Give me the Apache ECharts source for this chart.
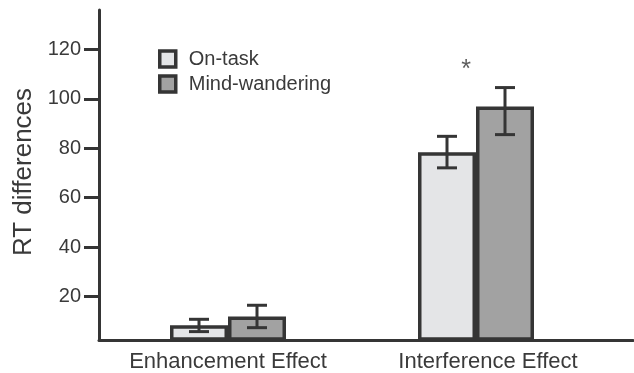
<!DOCTYPE html>
<html>
<head>
<meta charset="utf-8">
<script src="https://cdn.jsdelivr.net/npm/echarts@6/dist/echarts.min.js"></script>
<style>html,body{margin:0;padding:0;background:#fff}#c{width:634px;height:373px}</style>
</head>
<body>
<div id="c"></div>
<script>
const categories = ['Enhancement Effect', 'Interference Effect'];
const onTask = [8, 78.2];
const mindWandering = [11.5, 96.8];
const onTaskLow = [5.4, 71.9];
const onTaskHigh = [10.4, 84.7];
const mwLow = [7.0, 85.4];
const mwHigh = [16.1, 104.5];
const yTicks = [20, 40, 60, 80, 100, 120];
const starCategory = 1;
const starValue = 114;

const Y_MIN = 2.4, Y_MAX = 136;
const BAR_W = 58;
const DARK = '#353535';
const TXT = '#3a3a3a';
const FONT = 'Liberation Sans, Arial, sans-serif';

function errSeries(name, low, high, offset) {
  return {
    name: name,
    type: 'custom',
    xAxisIndex: 1, yAxisIndex: 1,
    z: 5,
    data: low.map((l, i) => [i, l, high[i]]),
    renderItem: function (params, api) {
      const lo = api.coord([api.value(0), api.value(1)]);
      const hi = api.coord([api.value(0), api.value(2)]);
      const x = lo[0] + offset;
      const cap = 10;
      const st = { stroke: DARK, lineWidth: 3 };
      return {
        type: 'group',
        children: [
          { type: 'line', shape: { x1: x, y1: lo[1], x2: x, y2: hi[1] }, style: st },
          { type: 'line', shape: { x1: x - cap, y1: lo[1], x2: x + cap, y2: lo[1] }, style: st },
          { type: 'line', shape: { x1: x - cap, y1: hi[1], x2: x + cap, y2: hi[1] }, style: st }
        ]
      };
    }
  };
}

const chart = echarts.init(document.getElementById('c'));
chart.setOption({
  animation: false,
  textStyle: { fontFamily: FONT },
  legend: {
    data: ['On-task', 'Mind-wandering'],
    orient: 'vertical',
    left: 158, top: 49,
    itemWidth: 16, itemHeight: 16, itemGap: 5,
    padding: 0,
    icon: 'rect',
    itemStyle: { borderColor: DARK, borderWidth: 3.5 },
    textStyle: { fontSize: 20, color: TXT, fontFamily: FONT, padding: [0, 0, 0, 8] }
  },
  grid: [
    { left: 99, right: 1, top: 10, bottom: 33 },
    { left: 104, right: 34, top: 10, bottom: 33 }
  ],
  xAxis: [
    {
      type: 'value', gridIndex: 0, min: 0, max: 1,
      axisLine: { show: true, lineStyle: { color: DARK, width: 3 } },
      axisTick: { show: false }, axisLabel: { show: false }, splitLine: { show: false }
    },
    {
      type: 'category', gridIndex: 1,
      data: [
        { value: categories[0] },
        { value: categories[1], textStyle: { padding: [0, 0, 0, 24] } }
      ],
      axisLine: { show: false }, axisTick: { show: false },
      axisLabel: { interval: 0, hideOverlap: false, fontSize: 22, color: TXT, margin: 12, fontFamily: FONT }
    }
  ],
  yAxis: [
    {
      type: 'value', gridIndex: 0, min: Y_MIN, max: Y_MAX,
      name: 'RT differences', nameLocation: 'middle', nameGap: 46,
      nameTextStyle: { fontSize: 26, color: TXT, fontFamily: FONT, padding: [0, 0, 0, 6] },
      axisLine: { show: true, lineStyle: { color: DARK, width: 3 } },
      axisTick: { show: true, inside: false, length: 15, lineStyle: { color: DARK, width: 3 }, customValues: yTicks },
      axisLabel: { fontSize: 20, color: TXT, margin: 18, customValues: yTicks, fontFamily: FONT },
      splitLine: { show: false }
    },
    {
      type: 'value', gridIndex: 1, min: Y_MIN, max: Y_MAX,
      axisLine: { show: false }, axisTick: { show: false }, axisLabel: { show: false }, splitLine: { show: false }
    }
  ],
  series: [
    {
      name: 'On-task', type: 'bar', xAxisIndex: 1, yAxisIndex: 1,
      data: onTask, barWidth: BAR_W, barGap: '0%',
      itemStyle: { color: '#e4e5e7', borderColor: DARK, borderWidth: 3.5 }
    },
    {
      name: 'Mind-wandering', type: 'bar', xAxisIndex: 1, yAxisIndex: 1,
      data: mindWandering, barWidth: BAR_W, barGap: '0%',
      itemStyle: { color: '#a2a2a2', borderColor: DARK, borderWidth: 3.5 }
    },
    errSeries('err-on', onTaskLow, onTaskHigh, -BAR_W / 2),
    errSeries('err-mw', mwLow, mwHigh, BAR_W / 2),
    {
      name: 'sig', type: 'scatter', xAxisIndex: 1, yAxisIndex: 1,
      symbolSize: 0,
      data: [[starCategory, starValue]],
      label: { show: true, formatter: '*', position: 'inside', offset: [-10, 6], fontSize: 25, color: '#333', fontFamily: FONT }
    }
  ]
});
</script>
</body>
</html>
